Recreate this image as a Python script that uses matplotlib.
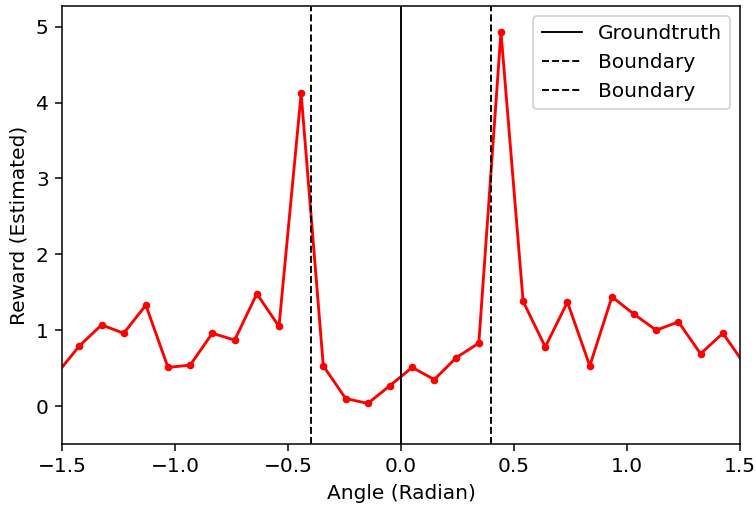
import matplotlib
matplotlib.use("Agg")
import matplotlib.pyplot as plt

# sample angles (radian) and estimated reward
angles = [-1.522, -1.424, -1.325, -1.227, -1.129, -1.031, -0.933, -0.835,
          -0.736, -0.638, -0.540, -0.442, -0.344, -0.245, -0.147, -0.049,
          0.049, 0.147, 0.245, 0.344, 0.442, 0.540, 0.638, 0.736,
          0.835, 0.933, 1.031, 1.129, 1.227, 1.325, 1.424, 1.522]
reward = [0.43, 0.79, 1.07, 0.96, 1.33, 0.51, 0.54, 0.96,
          0.87, 1.48, 1.05, 4.12, 0.53, 0.10, 0.035, 0.27,
          0.51, 0.35, 0.64, 0.83, 4.93, 1.38, 0.78, 1.37,
          0.53, 1.44, 1.21, 1.00, 1.11, 0.69, 0.96, 0.54]
groundtruth = 0.0
boundaries = [-0.4, 0.4]

plt.rcParams["font.size"] = 10.6

fig = plt.figure(figsize=(756 / 136.7, 511 / 136.7), dpi=136.7)
ax = fig.add_axes([0.082, 0.131, 0.897, 0.857])

ax.plot(angles, reward, "r.-", linewidth=1.5)
ax.axvline(groundtruth, color="k", linestyle="-", linewidth=1, label="Groundtruth")
for b in boundaries:
    ax.axvline(b, color="k", linestyle="--", linewidth=1, label="Boundary")

ax.set_xlim(-1.5, 1.5)
ax.set_ylim(-0.5, 5.27)
ax.set_xlabel("Angle (Radian)")
ax.set_ylabel("Reward (Estimated)")
ax.legend(loc="upper right")

fig.savefig("out.png", dpi=136.7)
plt.close(fig)
